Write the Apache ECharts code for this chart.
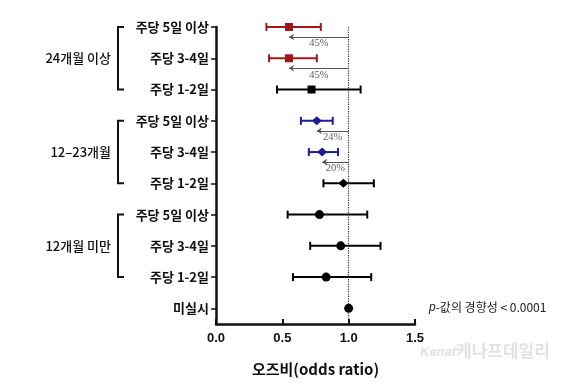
<!DOCTYPE html>
<html>
<head>
<meta charset="utf-8">
<script src="https://cdn.jsdelivr.net/npm/echarts@6/dist/echarts.min.js"></script>
<style>
html,body{margin:0;padding:0;background:#fff;}
#chart{width:579px;height:385px;}
</style>
</head>
<body>
<div id="chart"></div>
<script>
// ---- data ----
var categories = ['주당 5일 이상','주당 3-4일','주당 1-2일','주당 5일 이상','주당 3-4일','주당 1-2일','주당 5일 이상','주당 3-4일','주당 1-2일','미실시'];
var groups = ['24개월 이상','12–23개월','12개월 미만'];
var groupRows = [[0,2],[3,5],[6,8]];
var oddsRatio = [0.55,0.55,0.72,0.76,0.80,0.96,0.78,0.94,0.83,1.00];
var ciLow  = [0.38,0.40,0.46,0.64,0.70,0.81,0.54,0.71,0.58,null];
var ciHigh = [0.79,0.76,1.09,0.88,0.92,1.19,1.14,1.24,1.17,null];
var markerShape = ['rect','rect','rect','diamond','diamond','diamond','circle','circle','circle','circle'];
var markerColor = ['red','red','black','blue','blue','black','black','black','black','black'];
var arrowRows = [0,1,3,4];
var arrowLabels = ['45%','45%','24%','20%'];
var pText = '< 0.0001';

var palette = {red:'#a01818', blue:'#1c1c98', black:'#000000'};
var shapeSize = {rect:[8,8], diamond:[10,9], circle:[9,9]};

var chart = echarts.init(document.getElementById('chart'));

var rowIdx = categories.map(function(_,i){return i;});

var ciData = [];
rowIdx.forEach(function(i){
  if (ciLow[i] != null) ciData.push({value:[ciLow[i], ciHigh[i], i], color: palette[markerColor[i]]});
});

var pointData = rowIdx.map(function(i){
  return {
    value:[oddsRatio[i], i],
    symbol: markerShape[i],
    symbolSize: shapeSize[markerShape[i]],
    itemStyle:{color: palette[markerColor[i]], opacity:1}
  };
});

var arrowData = arrowRows.map(function(r){
  return {coords:[[1.0, r+0.32],[oddsRatio[r], r+0.32]]};
});
var arrowLabelData = arrowRows.map(function(r,k){
  return {value:[(1.0+oddsRatio[r])/2, r+0.53], name: arrowLabels[k]};
});

var option = {
  animation:false,
  backgroundColor:'#fff',
  grid:{left:216, right:164, top:27, bottom:61},
  xAxis:{
    type:'value', min:0, max:1.5, interval:0.5, position:'bottom',
    axisLine:{show:true, onZero:false, lineStyle:{color:'#111', width:2.5}},
    axisTick:{show:true, inside:true, length:5, lineStyle:{color:'#111', width:2}},
    splitLine:{show:false},
    axisLabel:{
      color:'#111', fontSize:13, fontWeight:'bold', fontFamily:'Liberation Sans, Arial, sans-serif', margin:8,
      formatter:function(v){return v.toFixed(1);}
    },
    name:'오즈비(odds ratio)', nameLocation:'middle', nameGap:38,
    nameTextStyle:{color:'#111', fontSize:15, fontWeight:'bold', fontFamily:'Noto Sans CJK KR, Liberation Sans, sans-serif'}
  },
  yAxis:{
    type:'value', inverse:true, min:0, max:9.5,
    axisLine:{show:true, onZero:false, lineStyle:{color:'#111', width:2.5}},
    axisTick:{show:true, length:5, customValues:rowIdx, lineStyle:{color:'#111', width:1.5}},
    splitLine:{show:false},
    axisLabel:{
      customValues:rowIdx, margin:7,
      color:'#111', fontSize:13, fontWeight:'bold', fontFamily:'Noto Sans CJK KR, sans-serif',
      formatter:function(v){return categories[Math.round(v)] || '';}
    }
  },
  series:[
    {
      type:'scatter', data:[], silent:true,
      markLine:{
        silent:true, symbol:['none','none'], label:{show:false},
        lineStyle:{color:'#333', type:'dotted', width:1.2},
        data:[{xAxis:1.0}]
      }
    },
    {
      type:'lines', coordinateSystem:'cartesian2d', silent:true, z:3,
      symbol:['none','arrow'], symbolSize:[0,5],
      lineStyle:{color:'#555', width:1, opacity:1},
      data: arrowData
    },
    {
      type:'scatter', silent:true, symbolSize:0, z:3,
      label:{show:true, position:'inside', formatter:function(p){return p.name;},
        color:'#333', fontSize:10.5, fontFamily:'Liberation Serif, DejaVu Serif, serif'},
      data: arrowLabelData
    },
    {
      type:'custom', silent:true, z:4,
      renderItem:function(params, api){
        var y = api.value(2);
        var p1 = api.coord([api.value(0), y]);
        var p2 = api.coord([api.value(1), y]);
        var c = ciData[params.dataIndex].color;
        var h = 4;
        var st = {stroke:c, lineWidth:2};
        return {type:'group', children:[
          {type:'line', shape:{x1:p1[0],y1:p1[1],x2:p2[0],y2:p2[1]}, style:st},
          {type:'line', shape:{x1:p1[0],y1:p1[1]-h,x2:p1[0],y2:p1[1]+h}, style:st},
          {type:'line', shape:{x1:p2[0],y1:p2[1]-h,x2:p2[0],y2:p2[1]+h}, style:st}
        ]};
      },
      encode:{x:[0,1], y:2},
      data: ciData.map(function(d){return d.value;})
    },
    {
      type:'scatter', silent:true, z:5,
      data: pointData
    }
  ]
};
chart.setOption(option);

// brackets and group labels placed from the axis coordinates
var g = [];
var bx = 118, bstub = 6;
groupRows.forEach(function(gr, k){
  var yTop = chart.convertToPixel({gridIndex:0}, [0, gr[0]])[1];
  var yBot = chart.convertToPixel({gridIndex:0}, [0, gr[1]])[1];
  g.push({type:'polyline', silent:true,
    shape:{points:[[bx+bstub, yTop],[bx, yTop],[bx, yBot],[bx+bstub, yBot]]},
    style:{stroke:'#111', lineWidth:2, fill:null}});
  g.push({type:'text', silent:true, x:111, y:(yTop+yBot)/2,
    style:{text:groups[k], align:'right', verticalAlign:'middle', fill:'#111',
      font:'500 13px "Noto Sans CJK KR", sans-serif'}});
});
var lastRowY = chart.convertToPixel({gridIndex:0}, [0, 9])[1];
g.push({type:'text', silent:true, x:429, y:lastRowY - 1,
  style:{
    text:'{i|p}{n|-값의 경향성 ' + pText + '}',
    verticalAlign:'middle', align:'left',
    rich:{
      i:{fontStyle:'italic', fontSize:12, fill:'#222', fontFamily:'Liberation Sans, Arial, sans-serif'},
      n:{fontSize:12, fill:'#222', fontFamily:'Noto Sans CJK KR, sans-serif'}
    }
  }});
// watermark
g.push({type:'text', silent:true, x:420, y:352,
  style:{text:'Kenaf', font:'italic bold 13px "Liberation Sans", sans-serif', fill:'#e0e0e0', verticalAlign:'middle', align:'left'}});
g.push({type:'text', silent:true, x:456, y:351,
  style:{text:'케나프데일리', font:'bold 17px "Noto Sans CJK KR", sans-serif', fill:'#e2e2e2', verticalAlign:'middle', align:'left'}});
chart.setOption({graphic:g});
</script>
</body>
</html>
